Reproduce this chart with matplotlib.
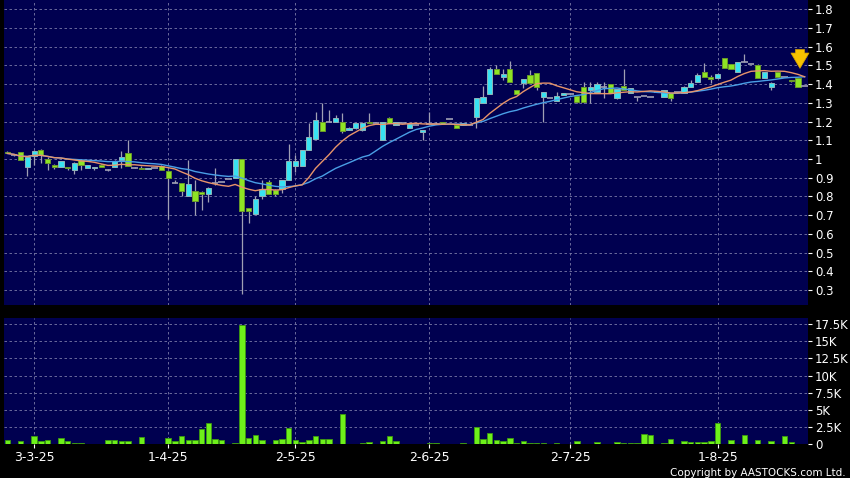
import numpy as np
import pandas as pd
import matplotlib
matplotlib.use('Agg')
import matplotlib.pyplot as plt

# daily OHLC (one entry per trading day)
opens = [1.04, 1.02, 1.04, 0.96, 1.015, 1.05, 1.0, 0.97, 0.96, 0.96, 0.94, 0.995,
         0.95, 0.95, 0.97, 0.94, 0.96, 0.995, 1.03, 0.95, 0.952, 0.945, 0.95, 0.963,
         0.935, 0.87, 0.87, 0.80, 0.83, 0.825, 0.815, 0.87, 0.88, 0.893, 0.90, 1.0,
         0.74, 0.705, 0.80, 0.88, 0.835, 0.84, 0.89, 0.965, 0.965, 1.05, 1.105, 1.2,
         1.2, 1.2, 1.2, 1.155, 1.165, 1.155, 1.2, 1.195, 1.10, 1.22, 1.18, 1.19,
         1.165, 1.18, 1.143, 1.185, 1.185, 1.2, 1.214, 1.18, 1.18, 1.18, 1.225, 1.30,
         1.35, 1.48, 1.44, 1.48, 1.37, 1.405, 1.45, 1.46, 1.33, 1.325, 1.312, 1.342,
         1.346, 1.339, 1.383, 1.369, 1.36, 1.387, 1.40, 1.325, 1.392, 1.354, 1.333, 1.335,
         1.33, 1.36, 1.333, 1.354, 1.36, 1.351, 1.383, 1.413, 1.464, 1.44, 1.431, 1.542,
         1.508, 1.464, 1.517, 1.506, 1.5, 1.431, 1.387, 1.464, 1.44, 1.42, 1.431, 1.39]
highs = [1.045, 1.025, 1.04, 1.01, 1.05, 1.055, 1.01, 0.975, 0.99, 0.96, 0.985, 1.0,
         0.97, 0.96, 0.975, 0.945, 0.995, 1.045, 1.10, 0.955, 0.965, 0.95, 0.95, 0.97,
         0.94, 0.89, 0.87, 0.995, 0.89, 0.83, 0.85, 0.95, 0.88, 0.893, 1.0, 1.0,
         0.74, 0.80, 0.89, 0.89, 0.84, 0.89, 1.08, 1.02, 1.05, 1.19, 1.25, 1.30,
         1.26, 1.235, 1.245, 1.17, 1.19, 1.2, 1.245, 1.195, 1.20, 1.225, 1.2, 1.19,
         1.19, 1.18, 1.155, 1.25, 1.2, 1.2, 1.214, 1.18, 1.19, 1.18, 1.325, 1.39,
         1.49, 1.503, 1.48, 1.525, 1.37, 1.43, 1.476, 1.46, 1.36, 1.325, 1.36, 1.351,
         1.346, 1.34, 1.41, 1.41, 1.41, 1.413, 1.40, 1.374, 1.48, 1.378, 1.333, 1.335,
         1.33, 1.36, 1.369, 1.354, 1.36, 1.39, 1.42, 1.46, 1.512, 1.45, 1.453, 1.542,
         1.508, 1.52, 1.561, 1.506, 1.51, 1.464, 1.41, 1.464, 1.44, 1.42, 1.431, 1.39]
lows = [1.03, 1.015, 0.995, 0.91, 0.97, 0.98, 0.94, 0.945, 0.96, 0.94, 0.92, 0.94,
        0.95, 0.94, 0.955, 0.935, 0.96, 0.95, 0.965, 0.95, 0.945, 0.945, 0.95, 0.94,
        0.68, 0.87, 0.80, 0.80, 0.70, 0.73, 0.77, 0.86, 0.88, 0.893, 0.90, 0.28,
        0.66, 0.705, 0.785, 0.815, 0.80, 0.82, 0.89, 0.93, 0.965, 1.05, 1.105, 1.15,
        1.2, 1.2, 1.14, 1.155, 1.16, 1.15, 1.19, 1.195, 1.10, 1.19, 1.18, 1.19,
        1.165, 1.18, 1.10, 1.185, 1.185, 1.187, 1.214, 1.165, 1.18, 1.18, 1.165, 1.30,
        1.35, 1.455, 1.42, 1.41, 1.35, 1.38, 1.405, 1.37, 1.2, 1.325, 1.312, 1.342,
        1.346, 1.30, 1.30, 1.30, 1.36, 1.325, 1.354, 1.32, 1.369, 1.354, 1.31, 1.335,
        1.33, 1.36, 1.333, 1.31, 1.36, 1.351, 1.383, 1.413, 1.44, 1.405, 1.431, 1.485,
        1.48, 1.464, 1.517, 1.506, 1.431, 1.431, 1.37, 1.44, 1.44, 1.41, 1.387, 1.39]
closes = [1.03, 1.02, 0.995, 1.01, 1.045, 1.02, 0.98, 0.96, 0.99, 0.95, 0.98, 0.97,
          0.97, 0.96, 0.96, 0.94, 0.99, 1.01, 0.965, 0.95, 0.945, 0.95, 0.95, 0.94,
          0.90, 0.87, 0.83, 0.865, 0.775, 0.815, 0.845, 0.87, 0.88, 0.893, 1.0, 0.725,
          0.72, 0.785, 0.84, 0.815, 0.815, 0.89, 0.99, 0.99, 1.05, 1.12, 1.21, 1.15,
          1.2, 1.22, 1.15, 1.165, 1.19, 1.19, 1.19, 1.195, 1.20, 1.19, 1.2, 1.19,
          1.187, 1.18, 1.155, 1.185, 1.185, 1.187, 1.214, 1.165, 1.19, 1.18, 1.325, 1.33,
          1.48, 1.455, 1.455, 1.41, 1.35, 1.43, 1.405, 1.385, 1.36, 1.325, 1.339, 1.351,
          1.346, 1.303, 1.303, 1.383, 1.40, 1.387, 1.354, 1.374, 1.369, 1.378, 1.333, 1.335,
          1.33, 1.36, 1.369, 1.325, 1.36, 1.387, 1.408, 1.449, 1.44, 1.43, 1.453, 1.485,
          1.48, 1.52, 1.517, 1.506, 1.431, 1.464, 1.405, 1.44, 1.44, 1.415, 1.387, 1.39]
# volume in thousands of shares
volumes = [0.58, 0, 0.5, 0, 1.17, 0.5, 0.58, 0, 0.83, 0.5, 0.12, 0.12,
           0, 0, 0, 0.58, 0.58, 0.5, 0.45, 0, 1.0, 0, 0, 0,
           0.83, 0.45, 1.12, 0.63, 0.63, 2.14, 3.12, 0.7, 0.63, 0, 0.15, 17.4,
           0.88, 1.37, 0.58, 0, 0.54, 0.68, 2.29, 0.54, 0.3, 0.63, 1.12, 0.68,
           0.78, 0, 4.39, 0, 0, 0.2, 0.25, 0, 0.5, 1.17, 0.5, 0,
           0, 0, 0, 0.15, 0.15, 0, 0, 0, 0.12, 0, 2.44, 0.68,
           1.56, 0.54, 0.44, 0.83, 0.15, 0.39, 0.15, 0.15, 0.2, 0, 0.1, 0,
           0, 0.39, 0, 0, 0.25, 0, 0, 0.3, 0.2, 0.2, 0.15, 1.51,
           1.32, 0, 0.2, 0.68, 0, 0.44, 0.25, 0.25, 0.25, 0.44, 3.02, 0,
           0.54, 0, 1.27, 0, 0.54, 0, 0.44, 0, 1.12, 0.3, 0, 0]

date_labels = ['3-3-25', '1-4-25', '2-5-25', '2-6-25', '2-7-25', '1-8-25']
date_index = [4, 24, 43, 63, 84, 106]

price_ticks = [0.3, 0.4, 0.5, 0.6, 0.7, 0.8, 0.9, 1.0, 1.1, 1.2, 1.3, 1.4, 1.5, 1.6, 1.7, 1.8]
vol_ticks = [0, 2.5, 5, 7.5, 10, 12.5, 15, 17.5]

NAVY = '#000050'
UP = '#38e2f2'
UP_EDGE = '#8fb4b8'
DOWN = '#8ee424'
DOWN_EDGE = '#6a9a2a'
WICK = '#a0a0b4'
GRID = '#7a7aa8'
VOL = '#6ef01a'

df = pd.DataFrame({'o': opens, 'h': highs, 'l': lows, 'c': closes, 'v': volumes})
x = np.arange(len(df))
ma10 = df['c'].rolling(10, min_periods=1).mean()
ma20 = df['c'].rolling(20, min_periods=1).mean()

fig = plt.figure(figsize=(8.5, 4.78), dpi=100, facecolor='black')
ax = fig.add_axes([4 / 850, 1 - 305 / 478, 804 / 850, 305 / 478])
axv = fig.add_axes([4 / 850, 1 - 444 / 478, 804 / 850, 126 / 478])

for a in (ax, axv):
    a.set_facecolor(NAVY)
    for s in a.spines.values():
        s.set_visible(False)
    a.set_xlim(-0.5, 119.5)
    a.set_xticks(date_index)
    a.grid(True, color=GRID, linestyle=(0, (3, 3)), linewidth=0.6)
    a.set_axisbelow(True)
    a.yaxis.tick_right()
    a.tick_params(axis='y', colors='white', labelsize=8.5, length=3, width=0.8, pad=2)

# candles
up = df['c'] > df['o']
down = df['c'] < df['o']
flat = df['c'] == df['o']
ax.vlines(x, df['l'], df['h'], color=WICK, linewidth=0.9, zorder=2)
ax.bar(x[up], (df['c'] - df['o'])[up], bottom=df['o'][up], width=0.78,
       color=UP, edgecolor=UP_EDGE, linewidth=0.7, zorder=3)
ax.bar(x[down], (df['o'] - df['c'])[down], bottom=df['c'][down], width=0.78,
       color=DOWN, edgecolor=DOWN_EDGE, linewidth=0.7, zorder=3)
ax.hlines(df['c'][flat], x[flat] - 0.5, x[flat] + 0.5, color=WICK, linewidth=1.2, zorder=3)

ax.plot(x, ma20, color='#4a9fe6', linewidth=1.0, zorder=4)
ax.plot(x, ma10, color='#e8946a', linewidth=1.0, zorder=4)

ax.set_ylim(0.22, 1.85)
ax.set_yticks(price_ticks)
ax.set_yticklabels([f'{t:g}' for t in price_ticks])
ax.tick_params(axis='x', length=0, labelbottom=False)

# yellow marker arrow over the latest candle
ax.annotate('', xy=(118.3, 1.47), xytext=(118.3, 1.6),
            arrowprops=dict(arrowstyle='simple,head_width=1.3,head_length=1.1,tail_width=0.65',
                            fc='#f6c200', ec='#d8a000', lw=0.5, mutation_scale=10), zorder=6)

# volume
axv.bar(x, df['v'], width=0.8, color=VOL, edgecolor='#3c9a10', linewidth=0.6, zorder=3)
axv.set_ylim(0, 18.42)
axv.set_yticks(vol_ticks)
axv.set_yticklabels(['0'] + [f'{t:g}K' for t in vol_ticks[1:]])
axv.set_xticklabels(date_labels)
axv.tick_params(axis='x', colors='white', labelsize=9, length=3, width=0.8, pad=2)

fig.text(0.995, 0.0, 'Copyright by AASTOCKS.com Ltd.', color='white', fontsize=7.5,
         ha='right', va='bottom')

fig.savefig('out.png', dpi=100, facecolor='black')
